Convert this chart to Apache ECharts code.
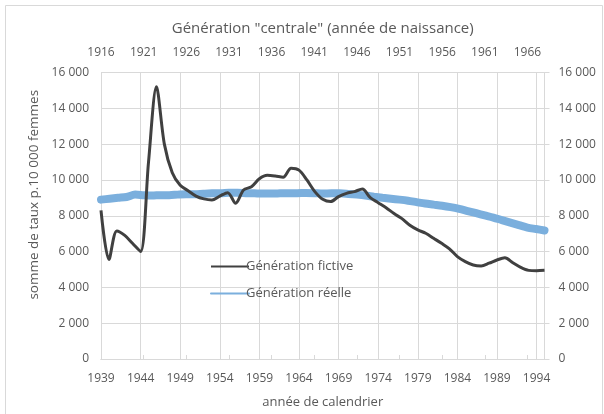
<!DOCTYPE html>
<html>
<head>
<meta charset="utf-8">
<script src="https://cdn.jsdelivr.net/npm/echarts@6/dist/echarts.min.js"></script>
<style>
  html, body { margin: 0; padding: 0; background: #fff; }
  #chart { width: 604px; height: 414px; }
</style>
</head>
<body>
<div id="chart"></div>
<script>
// Calendar years (bottom axis) and birth cohorts (top axis)
const calendarYears = [];
for (let y = 1939; y <= 1995; y++) calendarYears.push(String(y));
const cohortYears = [];
for (let y = 1916; y <= 1968; y++) cohortYears.push(String(y));

// Fictive generation: period sum of rates per 10 000 women, 1939–1995
const fictive = [
  8300, 5550, 7150, 6900, 6450, 6000, 11000, 15200, 12000, 10400,
  9700, 9400, 9100, 8940, 8880, 9100, 9290, 8700, 9440, 9620,
  10070, 10260, 10220, 10150, 10650, 10550, 10000, 9350, 8920, 8790,
  9070, 9250, 9350, 9490, 9010, 8730, 8450, 8120, 7840, 7470,
  7210, 7020, 6740, 6460, 6150, 5720, 5440, 5250, 5200, 5350,
  5530, 5650, 5380, 5120, 4950, 4930, 4950
];

// Real generation: completed sum of rates per 10 000 women, cohorts 1916–1968
const reelle = [
  8900, 8950, 9000, 9050, 9180, 9150, 9130, 9150, 9150, 9180,
  9200, 9200, 9230, 9250, 9250, 9280, 9280, 9260, 9250, 9240,
  9240, 9250, 9260, 9260, 9270, 9260, 9240, 9250, 9250, 9220,
  9180, 9130, 9060, 9000, 8950, 8900, 8840, 8760, 8680, 8620,
  8560, 8480, 8380, 8260, 8140, 8020, 7900, 7760, 7620, 7480,
  7340, 7260, 7180
];

const yTicks = { min: 0, max: 16000, interval: 2000 };

const FONT = '"Open Sans", sans-serif';
const TEXT = '#595959';
const GRID = '#d9d9d9';

function fmt(v) {
  return String(v).replace(/\B(?=(\d{3})+(?!\d))/g, ' ');
}

const chart = echarts.init(document.getElementById('chart'), null, { renderer: 'canvas' });

chart.setOption({
  backgroundColor: '#fff',
  animation: false,
  textStyle: { fontFamily: FONT, color: TEXT },
  graphic: [{
    type: 'rect',
    shape: { x: 5.5, y: 5.5, width: 597, height: 420 },
    style: { fill: 'none', stroke: GRID, lineWidth: 1 },
    silent: true, z: -10
  }],
  grid: { left: 101, right: 59.5, top: 72.5, bottom: 55 },
  legend: {
    orient: 'vertical',
    left: 205, top: 255,
    itemWidth: 38, itemHeight: 14, itemGap: 14,
    itemStyle: { opacity: 0 },
    textStyle: { fontFamily: FONT, fontSize: 13, color: TEXT, padding: [0, 0, 0, -8] },
    data: ['Génération fictive', 'Génération réelle']
  },
  xAxis: [{
    type: 'category',
    position: 'bottom',
    data: calendarYears,
    boundaryGap: false,
    name: 'année de calendrier',
    nameLocation: 'middle',
    nameGap: 37,
    nameTextStyle: { fontFamily: FONT, fontSize: 13, color: TEXT },
    axisLine: { lineStyle: { color: GRID } },
    axisTick: { show: false },
    axisLabel: { interval: 4, margin: 14, fontFamily: FONT, fontSize: 12, color: TEXT },
    splitLine: { show: true, interval: 4, lineStyle: { color: GRID } }
  }, {
    type: 'category',
    position: 'top',
    data: cohortYears,
    boundaryGap: false,
    name: 'Génération "centrale" (année de naissance)',
    nameLocation: 'middle',
    nameGap: 36,
    nameTextStyle: { fontFamily: FONT, fontSize: 15, color: TEXT },
    axisLine: { lineStyle: { color: GRID } },
    axisTick: { show: true, interval: 4, length: 4, lineStyle: { color: GRID } },
    axisLabel: { interval: 4, margin: 14, fontFamily: FONT, fontSize: 12, color: TEXT },
    splitLine: { show: false }
  }],
  yAxis: [{
    type: 'value',
    position: 'left',
    min: yTicks.min, max: yTicks.max, interval: yTicks.interval,
    name: 'somme de taux p.10 000 femmes',
    nameLocation: 'middle',
    nameGap: 57,
    nameTextStyle: { fontFamily: FONT, fontSize: 13.5, color: TEXT, padding: [0, 0, 0, 42] },
    axisLine: { show: true, lineStyle: { color: GRID } },
    axisTick: { show: false },
    axisLabel: { margin: 12, fontFamily: FONT, fontSize: 12, color: TEXT, formatter: fmt },
    splitLine: { show: true, lineStyle: { color: GRID } }
  }, {
    type: 'value',
    position: 'right',
    min: yTicks.min, max: yTicks.max, interval: yTicks.interval,
    axisLine: { show: true, lineStyle: { color: GRID } },
    axisTick: { show: true, length: 5, lineStyle: { color: GRID } },
    axisLabel: { margin: 14, fontFamily: FONT, fontSize: 12, color: TEXT, formatter: fmt },
    splitLine: { show: false }
  }],
  series: [{
    name: 'Génération réelle',
    type: 'line',
    xAxisIndex: 1,
    yAxisIndex: 0,
    data: reelle,
    smooth: 0.3,
    symbol: 'none',
    lineStyle: { color: '#7bafdd', width: 8, cap: 'round' },
    itemStyle: { color: '#7bafdd' },
    z: 2
  }, {
    name: 'Génération fictive',
    type: 'line',
    xAxisIndex: 0,
    yAxisIndex: 0,
    data: fictive,
    smooth: 0.3,
    symbol: 'none',
    lineStyle: { color: '#404040', width: 3 },
    itemStyle: { color: '#404040' },
    z: 3
  }]
});
</script>
</body>
</html>
